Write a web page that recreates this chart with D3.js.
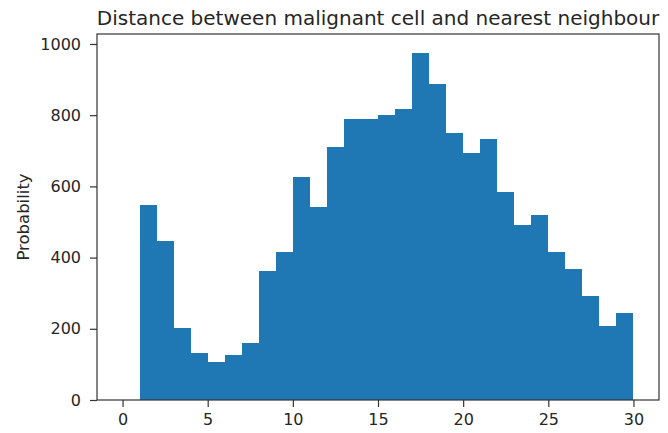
<!DOCTYPE html>
<html>
<head>
<meta charset="utf-8">
<script src="https://cdn.jsdelivr.net/npm/d3@7"></script>
<style>
  body { margin: 0; background: #fff; }
  text { font-family: 'DejaVu Sans', sans-serif; fill: #262626; }
</style>
</head>
<body>
<svg width="668" height="433"></svg>
<script>
// histogram bins (left edges) and counts; first bin is empty
const binStarts = [0, 1, 2, 3, 4, 5, 6, 7, 8, 9, 10, 11, 12, 13, 14, 15, 16, 17, 18, 19, 20, 21, 22, 23, 24, 25, 26, 27, 28, 29]
const counts = [0, 548, 447, 201, 131, 108, 126, 159, 363, 415, 627, 543, 712, 788, 788, 801, 816, 976, 888, 749, 693, 732, 585, 492, 519, 415, 367, 292, 208, 244]
const xTicks = [0, 5, 10, 15, 20, 25, 30]
const yTicks = [0, 200, 400, 600, 800, 1000]
const title = 'Distance between malignant cell and nearest neighbour'
const yLabel = 'Probability'

const margin = { top: 34, right: 9, bottom: 33, left: 97 }
const svg = d3.select('svg')
const width = 668 - margin.left - margin.right
const height = 433 - margin.top - margin.bottom

const g = svg.append('g')
  .attr('transform', `translate(${margin.left},${margin.top})`)

// matplotlib pads 5% of the 0..30 bin range on each side
const x = d3.scaleLinear().domain([-1.5, 31.5]).range([0, width])
const y = d3.scaleLinear().domain([0, 1028]).range([height, 0])

g.selectAll('rect.bar')
  .data(binStarts)
  .enter()
  .append('rect')
  .attr('class', 'bar')
  .attr('x', d => x(d))
  .attr('width', d => x(d + 1) - x(d))
  .attr('y', (d, i) => y(counts[i]))
  .attr('height', (d, i) => y(0) - y(counts[i]))
  .attr('fill', '#1f77b4')
  .attr('shape-rendering', 'crispEdges')

const xAxis = g.append('g')
  .attr('transform', `translate(0,${height})`)
  .call(d3.axisBottom(x).tickValues(xTicks).tickSize(7).tickPadding(7).tickFormat(d3.format('d')))
const yAxis = g.append('g')
  .call(d3.axisLeft(y).tickValues(yTicks).tickSize(7).tickPadding(9).tickFormat(d3.format('d')))

for (const ax of [xAxis, yAxis]) {
  ax.select('.domain').remove()
  ax.selectAll('line').attr('stroke', '#333').attr('stroke-width', 1.2)
  ax.selectAll('text').style('font-size', '16px').style('font-family', "'DejaVu Sans', sans-serif").attr('fill', '#262626')
}

// frame
g.append('rect')
  .attr('x', 0)
  .attr('y', 0)
  .attr('width', width)
  .attr('height', height)
  .attr('fill', 'none')
  .attr('stroke', '#333')
  .attr('stroke-width', 1.2)

svg.append('text')
  .attr('x', margin.left + width / 2)
  .attr('y', 25)
  .attr('text-anchor', 'middle')
  .style('font-size', '20px')
  .text(title)

svg.append('text')
  .attr('transform', `translate(29,${margin.top + height / 2}) rotate(-90)`)
  .attr('text-anchor', 'middle')
  .style('font-size', '16.5px')
  .text(yLabel)
</script>
</body>
</html>
